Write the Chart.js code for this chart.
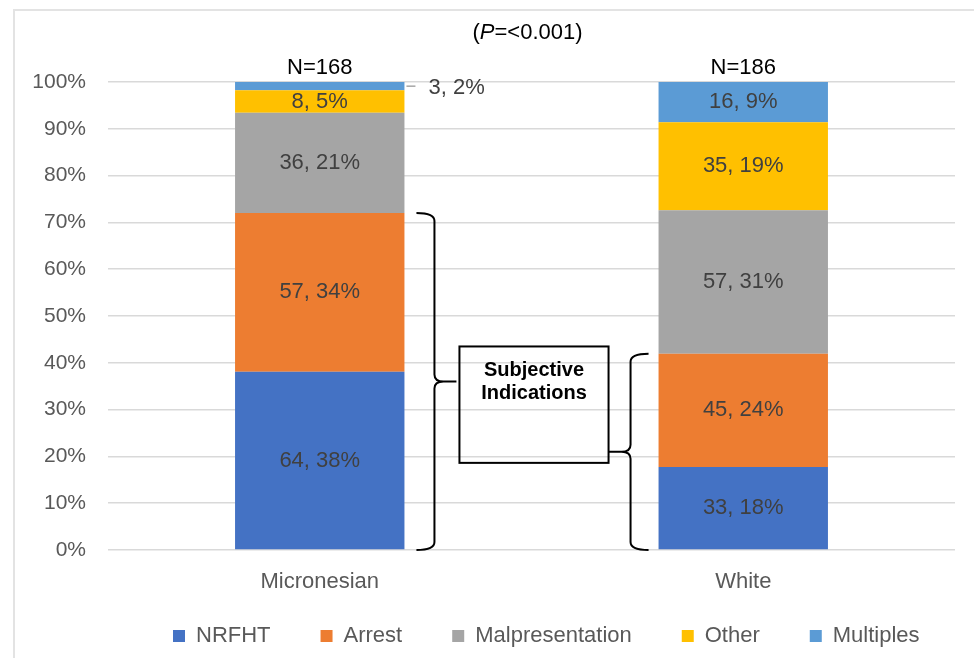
<!DOCTYPE html>
<html>
<head>
<meta charset="utf-8">
<script src="https://cdn.jsdelivr.net/npm/chart.js@4.4.1/dist/chart.umd.min.js"></script>
<style>
  html, body { margin: 0; padding: 0; background: #fff; }
</style>
</head>
<body>
<canvas id="grafica" width="974" height="658"></canvas>
<script>
// Datos
const categorias = ["Micronesian", "White"];
const totales = [168, 186];
const series = ["NRFHT", "Arrest", "Malpresentation", "Other", "Multiples"];
const nrfht = [64, 33];
const arrest = [57, 45];
const malpresentation = [36, 57];
const other = [8, 35];
const multiples = [3, 16];
const pctNrfht = [38, 18];
const pctArrest = [34, 24];
const pctMalpresentation = [21, 31];
const pctOther = [5, 19];
const pctMultiples = [2, 9];
const ticksY = [0, 10, 20, 30, 40, 50, 60, 70, 80, 90, 100];

const colores = ["#4472C4", "#ED7D31", "#A5A5A5", "#FFC000", "#5B9BD5"];
const conteos = [nrfht, arrest, malpresentation, other, multiples];
const porcentajes = [pctNrfht, pctArrest, pctMalpresentation, pctOther, pctMultiples];

const FUENTE = "'Liberation Sans', Arial, sans-serif";

// Barras al 100%: cada conteo sobre el total de su grupo
const datasets = series.map((nombre, i) => ({
  label: nombre,
  data: conteos[i].map((v, j) => v / totales[j] * 100),
  backgroundColor: colores[i],
  borderWidth: 0
}));

// Dibujos extra: marco, etiquetas, N, llaves, recuadro y título
const anotaciones = {
  id: "anotaciones",
  beforeDraw(chart) {
    const ctx = chart.ctx;
    ctx.save();
    ctx.strokeStyle = "#e3e3e3";
    ctx.lineWidth = 2;
    ctx.strokeRect(14, 10, 1000, 700);
    ctx.restore();
  },
  afterLayout(chart) {
    // mover la leyenda para que empiece donde en la figura
    const lg = chart.legend;
    const pad = lg.options.labels.padding;
    lg.left = 173 - pad;
    lg.right = 974;
    // dejar sitio a las etiquetas del eje x (si no, se recortan)
    chart.scales.x.bottom = chart.scales.x.top + 55;
  },
  afterDatasetsDraw(chart) {
    const ctx = chart.ctx;
    const y = chart.scales.y;
    const area = chart.chartArea;
    ctx.save();

    // etiquetas de cada segmento
    ctx.font = "22px " + FUENTE;
    ctx.fillStyle = "#404040";
    ctx.textBaseline = "middle";
    chart.data.datasets.forEach((ds, i) => {
      const meta = chart.getDatasetMeta(i);
      meta.data.forEach((bar, j) => {
        const p = bar.getProps(["x", "y", "base", "width"], true);
        const txt = conteos[i][j] + ", " + porcentajes[i][j] + "%";
        const yc = (p.y + p.base) / 2;
        if (Math.abs(p.base - p.y) < 14) {
          const xr = p.x + p.width / 2;
          ctx.strokeStyle = "#a6a6a6";
          ctx.lineWidth = 1.5;
          ctx.beginPath();
          ctx.moveTo(xr + 2, yc);
          ctx.lineTo(xr + 11, yc);
          ctx.stroke();
          ctx.textAlign = "left";
          ctx.fillText(txt, xr + 24, yc + 2);
        } else {
          ctx.textAlign = "center";
          ctx.fillText(txt, p.x, yc);
        }
      });
    });

    // N sobre cada barra
    const metaTop = chart.getDatasetMeta(series.length - 1);
    ctx.fillStyle = "#000";
    ctx.textAlign = "center";
    metaTop.data.forEach((bar, j) => {
      ctx.fillText("N=" + totales[j], bar.x, bar.y - 14);
    });

    // llaves "Subjective Indications"
    const b0 = chart.getDatasetMeta(0).data[0].getProps(["x", "width"], true);
    const b1 = chart.getDatasetMeta(0).data[1].getProps(["x", "width"], true);
    const top0 = y.getPixelForValue((nrfht[0] + arrest[0]) / totales[0] * 100);
    const top1 = y.getPixelForValue((nrfht[1] + arrest[1]) / totales[1] * 100);
    const base = y.getPixelForValue(0);
    ctx.strokeStyle = "#000";
    ctx.lineWidth = 2;

    function llave(yTop, yBot, xEnd, xSpine, xTip) {
      const s = Math.sign(xTip - xSpine);
      const mid = (yTop + yBot) / 2;
      ctx.beginPath();
      ctx.moveTo(xEnd, yTop);
      ctx.quadraticCurveTo(xSpine, yTop, xSpine, yTop + 8);
      ctx.lineTo(xSpine, mid - 7);
      ctx.quadraticCurveTo(xSpine, mid, xSpine + s * 9, mid);
      ctx.lineTo(xTip, mid);
      ctx.moveTo(xSpine + s * 9, mid);
      ctx.quadraticCurveTo(xSpine, mid, xSpine, mid + 7);
      ctx.lineTo(xSpine, yBot - 8);
      ctx.quadraticCurveTo(xSpine, yBot, xEnd, yBot);
      ctx.stroke();
      return mid;
    }
    const r0 = b0.x + b0.width / 2;
    const l1 = b1.x - b1.width / 2;
    const mid0 = llave(top0, base, r0 + 12, r0 + 30, r0 + 52);
    const mid1 = llave(top1, base, l1 - 10, l1 - 28, l1 - 50);

    // recuadro
    const bx0 = r0 + 55, bx1 = l1 - 50;
    const by0 = mid0 - 35, by1 = mid1 + 11;
    ctx.strokeRect(bx0, by0, bx1 - bx0, by1 - by0);
    ctx.fillStyle = "#000";
    ctx.font = "bold 20px " + FUENTE;
    ctx.textAlign = "center";
    ctx.fillText("Subjective", (bx0 + bx1) / 2, by0 + 24);
    ctx.fillText("Indications", (bx0 + bx1) / 2, by0 + 47);

    // título con P en cursiva
    const partes = [["(", "22px "], ["P", "italic 22px "], ["=<0.001)", "22px "]];
    let ancho = 0;
    partes.forEach(pt => { ctx.font = pt[1] + FUENTE; ancho += ctx.measureText(pt[0]).width; });
    let x = (area.left + area.right) / 2 - 4 - ancho / 2;
    ctx.textAlign = "left";
    partes.forEach(pt => {
      ctx.font = pt[1] + FUENTE;
      ctx.fillText(pt[0], x, 33);
      x += ctx.measureText(pt[0]).width;
    });

    ctx.restore();
  }
};

new Chart(document.getElementById("grafica"), {
  type: "bar",
  data: { labels: categorias, datasets },
  options: {
    responsive: false,
    animation: false,
    layout: { padding: { left: 0, top: 82, right: 19, bottom: 1 } },
    datasets: { bar: { categoryPercentage: 1, barPercentage: 0.4 } },
    scales: {
      x: {
        stacked: true,
        grid: { display: false },
        border: { display: false },
        ticks: { color: "#595959", font: { family: FUENTE, size: 22 }, padding: 11 },
        afterFit(scale) {
          scale.height = Math.max(10, 658 - 1 - 550 - scale.chart.legend.height);
        }
      },
      y: {
        stacked: true,
        min: 0,
        max: 100,
        afterBuildTicks(scale) { scale.ticks = ticksY.map(v => ({ value: v })); },
        grid: { color: "#d9d9d9", lineWidth: 1.5, drawTicks: false },
        border: { display: false },
        ticks: {
          color: "#595959",
          font: { family: FUENTE, size: 21 },
          padding: 22,
          callback: v => v + "%"
        },
        afterFit(scale) { scale.width = 108; }
      }
    },
    plugins: {
      legend: {
        position: "bottom",
        align: "start",
        labels: {
          color: "#595959",
          font: { family: FUENTE, size: 22 },
          boxWidth: 12,
          boxHeight: 12,
          padding: 50
        }
      },
      tooltip: { enabled: false },
      title: { display: false }
    }
  },
  plugins: [anotaciones]
});
</script>
</body>
</html>
